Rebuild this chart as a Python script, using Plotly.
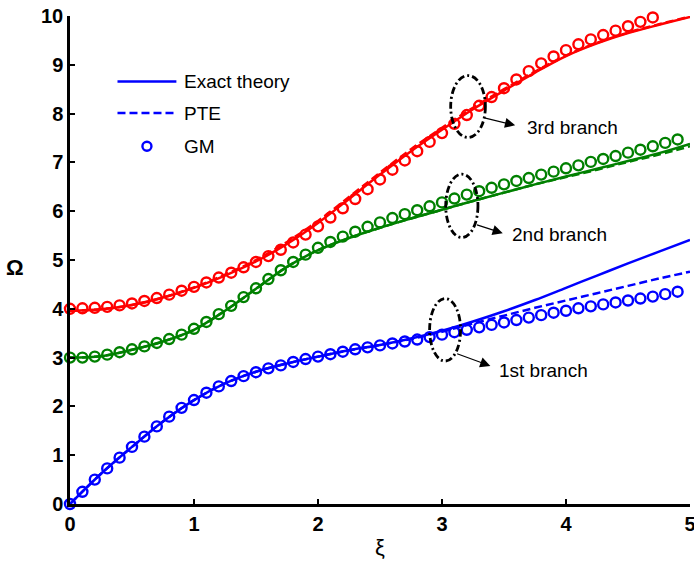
import numpy as np
import plotly.graph_objects as go

# ---- dispersion data -------------------------------------------------------
xi_line = [0.0, 0.25, 0.5, 0.75, 1.0, 1.25, 1.5, 1.75, 2.0, 2.25, 2.5,
           2.75, 3.0, 3.25, 3.5, 3.75, 4.0, 4.25, 4.5, 4.75, 5.0]

# exact theory
exact_b1 = [0.0, 0.62, 1.17, 1.69, 2.13, 2.47, 2.71, 2.88, 3.02, 3.15, 3.26,
            3.39, 3.55, 3.74, 3.95, 4.18, 4.43, 4.68, 4.93, 5.17, 5.41]
exact_b2 = [3.0, 3.03, 3.16, 3.33, 3.57, 3.96, 4.41, 4.86, 5.20, 5.45, 5.66,
            5.85, 6.03, 6.21, 6.38, 6.55, 6.71, 6.87, 7.03, 7.19, 7.38]
exact_b3 = [3.96, 3.99, 4.08, 4.23, 4.43, 4.68, 4.97, 5.33, 5.76, 6.25, 6.75,
            7.23, 7.67, 8.09, 8.47, 8.84, 9.18, 9.44, 9.65, 9.82, 9.98]

# PTE
pte_b1 = [0.0, 0.62, 1.17, 1.69, 2.13, 2.47, 2.71, 2.88, 3.02, 3.15, 3.26,
          3.38, 3.53, 3.70, 3.86, 4.02, 4.17, 4.32, 4.47, 4.62, 4.76]
pte_b2 = [3.0, 3.03, 3.16, 3.33, 3.57, 3.96, 4.41, 4.86, 5.20, 5.45, 5.66,
          5.85, 6.03, 6.21, 6.38, 6.55, 6.70, 6.85, 7.01, 7.16, 7.33]
pte_b3 = [3.96, 3.99, 4.08, 4.23, 4.44, 4.70, 5.00, 5.37, 5.80, 6.29, 6.79,
          7.27, 7.71, 8.12, 8.50, 8.86, 9.19, 9.45, 9.66, 9.83, 9.99]

# GM
gm_b1 = [0.0, 0.25, 0.50, 0.73, 0.95, 1.17, 1.38, 1.59, 1.79, 1.97,
         2.13, 2.28, 2.41, 2.52, 2.62, 2.70, 2.78, 2.84, 2.91, 2.97,
         3.02, 3.07, 3.12, 3.17, 3.21, 3.25, 3.29, 3.33, 3.37, 3.42,
         3.47, 3.52, 3.57, 3.62, 3.67, 3.72, 3.77, 3.82, 3.87, 3.92,
         3.96, 4.01, 4.05, 4.09, 4.13, 4.17, 4.21, 4.25, 4.30, 4.35]
gm_b2 = [3.00, 3.00, 3.02, 3.06, 3.11, 3.17, 3.23, 3.30, 3.38, 3.47,
         3.59, 3.73, 3.89, 4.06, 4.24, 4.42, 4.61, 4.79, 4.96, 5.11,
         5.25, 5.37, 5.48, 5.58, 5.68, 5.77, 5.86, 5.94, 6.02, 6.10,
         6.18, 6.26, 6.34, 6.41, 6.48, 6.55, 6.62, 6.68, 6.75, 6.81,
         6.88, 6.94, 7.01, 7.07, 7.13, 7.20, 7.26, 7.33, 7.40, 7.47]
gm_b3 = [4.00, 4.01, 4.02, 4.04, 4.07, 4.11, 4.16, 4.22, 4.29, 4.37,
         4.45, 4.54, 4.64, 4.74, 4.85, 4.96, 5.08, 5.21, 5.36, 5.52,
         5.69, 5.87, 6.06, 6.25, 6.45, 6.65, 6.85, 7.04, 7.23, 7.42,
         7.60, 7.79, 7.97, 8.16, 8.34, 8.52, 8.70, 8.87, 9.03, 9.17,
         9.30, 9.42, 9.52, 9.61, 9.70, 9.79, 9.88, 9.97]

x_ticks = [0, 1, 2, 3, 4, 5]
y_ticks = list(range(0, 11))

BLUE, GREEN, RED = "#0000FF", "#008000", "#FF0000"
FONT = "Arial, Liberation Sans, sans-serif"

fig = go.Figure()

branches = [(exact_b1, pte_b1, gm_b1, BLUE),
            (exact_b2, pte_b2, gm_b2, GREEN),
            (exact_b3, pte_b3, gm_b3, RED)]

for exact, pte, gm, col in branches:
    fig.add_trace(go.Scatter(x=xi_line, y=exact, mode="lines",
                             line=dict(color=col, width=2.5, shape="spline"),
                             showlegend=False, cliponaxis=False))
    fig.add_trace(go.Scatter(x=xi_line, y=pte, mode="lines",
                             line=dict(color=col, width=2.5, dash="8px,4px",
                                       shape="spline"),
                             showlegend=False, cliponaxis=False))
    xi_gm = np.round(np.arange(len(gm)) * 0.1, 2)
    fig.add_trace(go.Scatter(x=xi_gm, y=gm, mode="markers",
                             marker=dict(symbol="circle-open", size=10,
                                         color=col, line=dict(width=2.4, color=col)),
                             showlegend=False, cliponaxis=False))

# ---- hand-drawn legend ----------------------------------------------------
leg_x0, leg_x1, leg_txt = 0.383, 0.858, 0.907
leg_rows = [("Exact theory", 8.66, "solid"), ("PTE", 8.01, "8px,4px"), ("GM", 7.33, None)]
shapes = []
annotations = []
for label, yy, dash in leg_rows:
    if dash is not None:
        shapes.append(dict(type="line", xref="x", yref="y", x0=leg_x0, x1=leg_x1,
                           y0=yy, y1=yy, line=dict(color=BLUE, width=2.5, dash=dash)))
    else:
        xc = (leg_x0 + leg_x1) / 2
        shapes.append(dict(type="circle", xref="x", yref="y", xsizemode="pixel",
                           ysizemode="pixel", xanchor=xc, yanchor=yy,
                           x0=-4.5, x1=4.5, y0=-4.5, y1=4.5,
                           line=dict(color=BLUE, width=2.4)))
    annotations.append(dict(x=leg_txt, y=yy, xref="x", yref="y", text=label,
                            showarrow=False, xanchor="left", yanchor="middle",
                            font=dict(family=FONT, size=19, color="black")))

# ---- branch markers (dash-dot ellipses) -----------------------------------
ellipses = [(2.90, 3.15, 2.93, 4.21), (3.03, 3.29, 5.46, 6.76), (3.07, 3.35, 7.51, 8.78)]
for x0, x1, y0, y1 in ellipses:
    shapes.append(dict(type="circle", xref="x", yref="y", x0=x0, x1=x1, y0=y0, y1=y1,
                       line=dict(color="black", width=2.8, dash="7px,3px,2px,3px")))

callouts = [("1st branch", (3.11, 3.09), (3.39, 2.83), (3.44, 2.74)),
            ("2nd branch", (3.27, 5.73), (3.49, 5.55), (3.55, 5.53)),
            ("3rd branch", (3.33, 7.92), (3.59, 7.76), (3.67, 7.72))]
for text, tail, head, pos in callouts:
    annotations.append(dict(x=head[0], y=head[1], ax=tail[0], ay=tail[1],
                            xref="x", yref="y", axref="x", ayref="y", text="",
                            showarrow=True, arrowhead=2, arrowsize=1.7,
                            arrowwidth=1.2, arrowcolor="black"))
    annotations.append(dict(x=pos[0], y=pos[1], xref="x", yref="y", text=text,
                            showarrow=False, xanchor="left", yanchor="middle",
                            font=dict(family=FONT, size=19, color="black")))

# axis titles
annotations.append(dict(x=0.5, y=-0.09, xref="paper", yref="paper", text="ξ",
                        showarrow=False, xanchor="center", yanchor="middle",
                        font=dict(family=FONT, size=22, color="black")))
annotations.append(dict(x=-0.089, y=0.484, xref="paper", yref="paper", text="Ω",
                        showarrow=False, xanchor="center", yanchor="middle",
                        font=dict(family=FONT, size=22, color="black", weight="bold")))

axis_common = dict(showline=True, linecolor="black", linewidth=2.5, mirror=False,
                   ticks="inside", ticklen=5, tickwidth=2, tickcolor="black",
                   showgrid=False, zeroline=False, ticklabeloverflow="allow",
                   automargin=False,
                   tickfont=dict(family=FONT, size=20, color="black", weight="bold"))

fig.update_layout(
    width=694, height=562,
    margin=dict(l=70, r=4, t=16, b=58),
    plot_bgcolor="white", paper_bgcolor="white",
    xaxis=dict(range=[0, 5], tickvals=x_ticks, **axis_common),
    yaxis=dict(range=[0, 10], tickvals=y_ticks, ticklabelstandoff=0, **axis_common),
    shapes=shapes, annotations=annotations, showlegend=False,
)

fig.write_html("out.html")
